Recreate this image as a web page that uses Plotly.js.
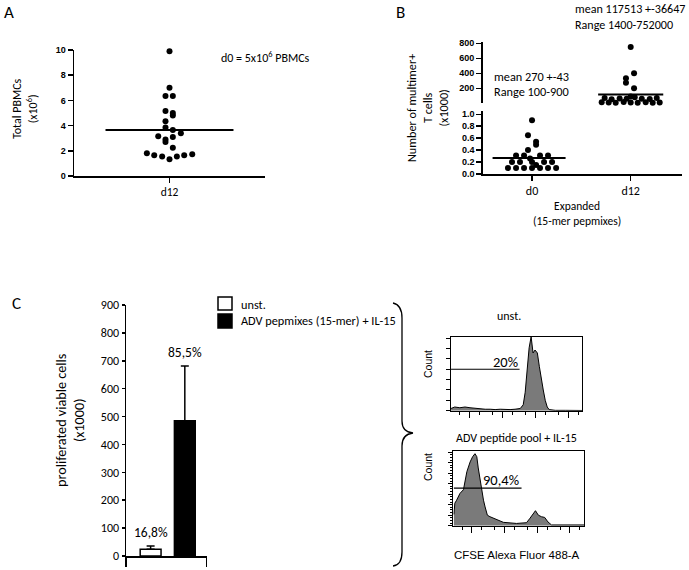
<!DOCTYPE html>
<html><head><meta charset="utf-8">
<script src="https://cdn.plot.ly/plotly-3.0.1.min.js"></script>
<style>html,body{margin:0;padding:0;background:#fff}</style>
</head><body><div id="chart" style="width:689px;height:570px"></div>
<script>
// ---------- Panel A: total PBMCs at d12 (x10^6) ----------
const aCategory = ['d12'];
const aValues = [9.9, 7.0, 6.35, 6.35, 5.15, 5.0, 4.8, 4.35, 3.85, 3.65, 3.4, 3.15, 3.1, 2.9, 2.7, 2.25, 1.8, 1.65, 1.55, 1.32, 1.55, 1.65, 1.72];
const aJitter = [0, 0, -0.042, 0.035, -0.042, 0.035, 0.035, -0.042, -0.042, 0.035, 0.119, -0.118, 0.035, -0.042, -0.042, 0.035, -0.237, -0.160, -0.077, 0, 0.077, 0.154, 0.238];
const aMean = [3.65];

// ---------- Panel B: multimer+ T cells (x1000) ----------
const bCategories = ['d0', 'd12'];
const bD0Values = [0.90, 0.65, 0.54, 0.49, 0.40, 0.31, 0.31, 0.31, 0.31, 0.26, 0.20, 0.20, 0.20, 0.20, 0.20, 0.15, 0.10, 0.10, 0.10, 0.10, 0.10, 0.10, 0.10];
const bD0Jitter = [0, -0.041, 0.041, 0.041, -0.041, -0.162, -0.081, 0.081, 0.162, -0.02, -0.203, -0.122, 0, 0.122, 0.203, 0.041, -0.244, -0.162, -0.081, 0, 0.081, 0.162, 0.244];
const bD12Values = [752, 400, 333, 275, 200, 90, 70, 55, 65, 60, 80, 62, 58, 72, 15, 12, 8, 18, 10, 6, 14, 9, 12];
const bD12Jitter = [0, 0.034, -0.048, -0.048, 0.034, 0, -0.264, -0.193, -0.112, -0.041, 0.041, 0.112, 0.193, 0.264, -0.294, -0.223, -0.152, -0.071, 0, 0.071, 0.152, 0.223, 0.294];
const bMeans = [0.27, 117.5];

// ---------- Panel C: proliferated viable cells (x1000) ----------
const cGroups = ['unst.', 'ADV pepmixes (15-mer) + IL-15'];
const cValues = [24, 485];
const cErrors = [12, 196];
const cPercent = ['16,8%', '85,5%'];

// ---------- Panel C: CFSE histograms ----------
const hist1Title = 'unst.';
const hist1X = [27, 35, 50, 72, 102, 146, 209, 297, 420, 594, 850, 1210, 1700, 2400, 3470, 4270, 4900, 5620, 6460, 7420, 7940, 8510, 9770, 11500, 13200, 15100, 17400, 20000, 23000, 26300, 40700, 81300, 269000];
const hist1Y = [3, 5, 4, 5, 4, 3, 3, 2, 2, 1.5, 2, 1.5, 1.5, 2, 3, 8, 25, 55, 85, 100, 90, 78, 82, 78, 60, 42, 28, 14, 5, 1.5, 0.5, 0.5, 0.3];
const hist1Gate = [27, 3300];
const hist1GateLevel = 56;
const hist1Label = '20%';

const hist2Title = 'ADV peptide pool + IL-15';
const hist2X = [28, 30, 34, 43, 55, 62, 70, 88, 105, 124, 141, 156, 178, 200, 226, 253, 297, 356, 577, 917, 2330, 4690, 6000, 7650, 8800, 10800, 13400, 16900, 21200, 27300, 269000];
const hist2Y = [15, 30, 34, 43, 48, 61, 72, 85, 92, 96, 92, 77, 61, 48, 34, 25, 14, 12, 7.6, 4.5, 3, 4, 10, 16.5, 20, 14, 12, 11, 5, 1, 1];
const hist2Gate = [28, 3300];
const hist2GateLevel = 50;
const hist2Label = '90,4%';
const histXTitle = 'CFSE Alexa Fluor 488-A';

// ---------- layout helpers ----------
const W = 689, H = 570;
const fx = p => p / W, fy = p => 1 - p / H;
const CAL = 'Carlito, Lato, sans-serif';
const ARIAL = 'Liberation Sans, Arial, sans-serif';
const BOLDTICK = {family: ARIAL, size: 9, weight: 'bold', color: '#000'};

const baseAxis = {showline: true, linecolor: '#000', linewidth: 1.5, ticks: 'outside', tickcolor: '#000', tickwidth: 1.5, ticklen: 5, showgrid: false, zeroline: false, fixedrange: true};

const traces = [];
// A
traces.push({type: 'scatter', mode: 'markers', xaxis: 'x', yaxis: 'y', cliponaxis: false,
  x: aValues.map((v, i) => 1 + aJitter[i]), y: aValues, marker: {color: '#000', size: 6}, hoverinfo: 'y'});
traces.push({type: 'scatter', mode: 'lines', xaxis: 'x', yaxis: 'y', cliponaxis: false,
  x: [1 - 0.67, 1 + 0.67], y: [aMean[0], aMean[0]], line: {color: '#000', width: 1.8}, hoverinfo: 'skip'});
// B
traces.push({type: 'scatter', mode: 'markers', xaxis: 'x2', yaxis: 'y2', cliponaxis: false,
  x: bD0Values.map((v, i) => 0 + bD0Jitter[i]), y: bD0Values, marker: {color: '#000', size: 6}});
traces.push({type: 'scatter', mode: 'lines', xaxis: 'x2', yaxis: 'y2', cliponaxis: false,
  x: [0 - 0.4, 0 + 0.34], y: [bMeans[0], bMeans[0]], line: {color: '#000', width: 2}, hoverinfo: 'skip'});
traces.push({type: 'scatter', mode: 'markers', xaxis: 'x2', yaxis: 'y3', cliponaxis: false,
  x: bD12Values.map((v, i) => 1 + bD12Jitter[i]), y: bD12Values, marker: {color: '#000', size: 6}});
traces.push({type: 'scatter', mode: 'lines', xaxis: 'x2', yaxis: 'y3', cliponaxis: false,
  x: [1 - 0.33, 1 + 0.33], y: [bMeans[1], bMeans[1]], line: {color: '#000', width: 2}, hoverinfo: 'skip'});
// C bars
const barColors = ['#ffffff', '#000000'];
cValues.forEach((v, i) => {
  traces.push({type: 'bar', xaxis: 'x3', yaxis: 'y4', name: cGroups[i], x: [i], y: [v], width: 0.61,
    marker: {color: barColors[i], line: {color: '#000', width: 1.5}},
    error_y: {type: 'data', symmetric: false, array: [cErrors[i]], arrayminus: [0], color: '#000', thickness: 1.5, width: 4}});
});
// histograms
traces.push({type: 'scatter', mode: 'lines', xaxis: 'x4', yaxis: 'y5', x: hist1X, y: hist1Y, fill: 'tozeroy',
  fillcolor: '#7a7a7a', line: {color: '#000', width: 1}});
traces.push({type: 'scatter', mode: 'lines', xaxis: 'x4', yaxis: 'y5', x: hist1Gate, y: [hist1GateLevel, hist1GateLevel],
  line: {color: '#000', width: 1.2}, cliponaxis: false});
traces.push({type: 'scatter', mode: 'lines', xaxis: 'x5', yaxis: 'y6', x: hist2X, y: hist2Y, fill: 'tozeroy',
  fillcolor: '#7a7a7a', line: {color: '#000', width: 1}});
traces.push({type: 'scatter', mode: 'lines', xaxis: 'x5', yaxis: 'y6', x: hist2Gate, y: [hist2GateLevel, hist2GateLevel],
  line: {color: '#000', width: 1.2}, cliponaxis: false});

const ann = (text, x, y, o = {}) => Object.assign({text, x: fx(x), y: fy(y), xref: 'paper', yref: 'paper', showarrow: false,
  xanchor: 'center', yanchor: 'middle', font: {family: CAL, size: 11, color: '#000'}}, o);
const F = (size, family = CAL) => ({family, size, color: '#000'});

const annotations = [
  ann('A', 9, 13, {font: F(17)}),
  ann('d0 = 5x10<sup>6</sup> PBMCs', 219, 57, {xanchor: 'left', font: F(12)}),
  ann('Total PBMCs<br>(x10<sup>6</sup>)', 25, 109, {textangle: -90, font: F(12)}),
  ann('B', 400, 13, {font: F(17)}),
  ann('mean 117513 +-36647', 573, 8, {xanchor: 'left', font: F(12.1)}),
  ann('Range 1400-752000', 573, 24, {xanchor: 'left', font: F(12.1)}),
  ann('mean 270 +-43', 492, 77, {xanchor: 'left', font: F(12.3)}),
  ann('Range 100-900', 492, 91, {xanchor: 'left', font: F(12.3)}),
  ann('Number of multimer+<br>T cells<br>(x1000)', 427, 108, {textangle: -90, font: F(12.2)}),
  ann('Expanded<br>(15-mer pepmixes)', 577, 213, {font: F(11.5)}),
  ann('C', 16, 303, {font: F(17)}),
  ann('proliferated viable cells<br>(x1000)', 70, 420, {textangle: -90, font: F(14.2)}),
  ann(cGroups[0], 239, 304, {xanchor: 'left', font: F(12.3)}),
  ann(cGroups[1], 239, 320, {xanchor: 'left', font: F(12.3)}),
  ann(hist1Title, 509, 316, {font: F(12)}),
  ann(hist2Title, 516, 438, {font: F(12)}),
  ann('Count', 428, 364, {textangle: -90, font: F(10.5, ARIAL)}),
  ann('Count', 428, 467, {textangle: -90, font: F(10.5, ARIAL)}),
  ann(hist1Label, 505, 362, {font: F(14.5)}),
  ann(hist2Label, 501, 480, {font: F(14.5)}),
  ann(histXTitle, 517, 555, {font: F(11.5, ARIAL)})
];
cValues.forEach((v, i) => {
  annotations.push({text: cPercent[i], x: i, y: v + cErrors[i], xref: 'x3', yref: 'y4', showarrow: false,
    xanchor: 'center', yanchor: 'bottom', yshift: 3, font: F(13.5)});
});

// brace path in paper coordinates
const P = (x, y) => fx(x).toFixed(5) + ',' + fy(y).toFixed(5);
const bracePath = 'M' + P(393, 303) + ' Q' + P(402, 305) + ' ' + P(402, 318) + ' L' + P(402, 421) +
  ' Q' + P(402, 432) + ' ' + P(413, 433) + ' Q' + P(402, 434) + ' ' + P(402, 446) + ' L' + P(402, 552) +
  ' Q' + P(402, 565) + ' ' + P(393, 566);

const shapes = [
  {type: 'path', xref: 'paper', yref: 'paper', path: bracePath, line: {color: '#000', width: 1.3}},
  {type: 'rect', xref: 'paper', yref: 'paper', x0: fx(218), x1: fx(232), y0: fy(310), y1: fy(297), fillcolor: '#fff', line: {color: '#000', width: 1.5}},
  {type: 'rect', xref: 'paper', yref: 'paper', x0: fx(218), x1: fx(232), y0: fy(328), y1: fy(314), fillcolor: '#000', line: {color: '#000', width: 1.5}}
];

const histAxisX = (dom, yref) => Object.assign({}, baseAxis, {type: 'log', domain: dom, range: [1.43, 5.43], anchor: yref,
  mirror: true, linewidth: 1, tickwidth: 1, ticklen: 6, dtick: 1, showticklabels: false,
  minor: {ticks: 'outside', ticklen: 3, dtick: 'D2', tickcolor: '#000', tickwidth: 1}});
const histAxisY = (dom, xref, minor) => Object.assign({}, baseAxis, {domain: dom, range: [0, 100], anchor: xref,
  mirror: true, linewidth: 1, tickwidth: 1, ticklen: 4, dtick: 14, showticklabels: false},
  minor ? {minor: {ticks: 'outside', ticklen: 2, dtick: 3.5, tickcolor: '#000', tickwidth: 1}} : {});

const layout = {
  width: W, height: H, margin: {l: 0, r: 0, t: 0, b: 0}, showlegend: false,
  paper_bgcolor: '#fff', plot_bgcolor: 'rgba(0,0,0,0)',
  font: {family: ARIAL, color: '#000'},
  xaxis: Object.assign({}, baseAxis, {domain: [fx(74), fx(265)], range: [0, 2], anchor: 'y', tickvals: [1], ticktext: aCategory,
    tickfont: F(11.5)}),
  yaxis: Object.assign({}, baseAxis, {domain: [fy(176), fy(50)], range: [0, 10], anchor: 'x', dtick: 2, tickfont: BOLDTICK}),
  xaxis2: Object.assign({}, baseAxis, {domain: [fx(482.7), fx(682)], range: [-0.5, 1.52], anchor: 'y2', tickvals: [0, 1], ticktext: bCategories,
    tickfont: F(12)}),
  yaxis2: Object.assign({}, baseAxis, {domain: [fy(174), fy(111)], range: [0, 1.055], anchor: 'x2',
    tickvals: [0, 0.2, 0.4, 0.6, 0.8, 1.0], tickformat: '.1f', tickfont: BOLDTICK}),
  yaxis3: Object.assign({}, baseAxis, {domain: [fy(103.3), fy(41.8)], range: [0, 820], anchor: 'x2',
    tickvals: [200, 400, 600, 800], tickfont: BOLDTICK}),
  xaxis3: Object.assign({}, baseAxis, {domain: [fx(126), fx(206.7)], range: [-0.72, 1.64], anchor: 'y4',
    tickvals: [-0.7199, 1.6399], ticklen: 9, showticklabels: false}),
  yaxis4: Object.assign({}, baseAxis, {domain: [fy(556), fy(305)], range: [0, 900], anchor: 'x3', dtick: 100, ticklen: 3,
    tickfont: F(12)}),
  xaxis4: histAxisX([fx(451), fx(582.3)], 'y5'),
  yaxis5: histAxisY([fy(410.7), fy(336.7)], 'x4', false),
  xaxis5: histAxisX([fx(453.3), fx(584)], 'y6'),
  yaxis6: histAxisY([fy(525.7), fy(450.7)], 'x5', true),
  annotations, shapes,
  bargap: 0
};

Plotly.newPlot('chart', traces, layout, {staticPlot: true, displayModeBar: false});
</script>
</body></html>
